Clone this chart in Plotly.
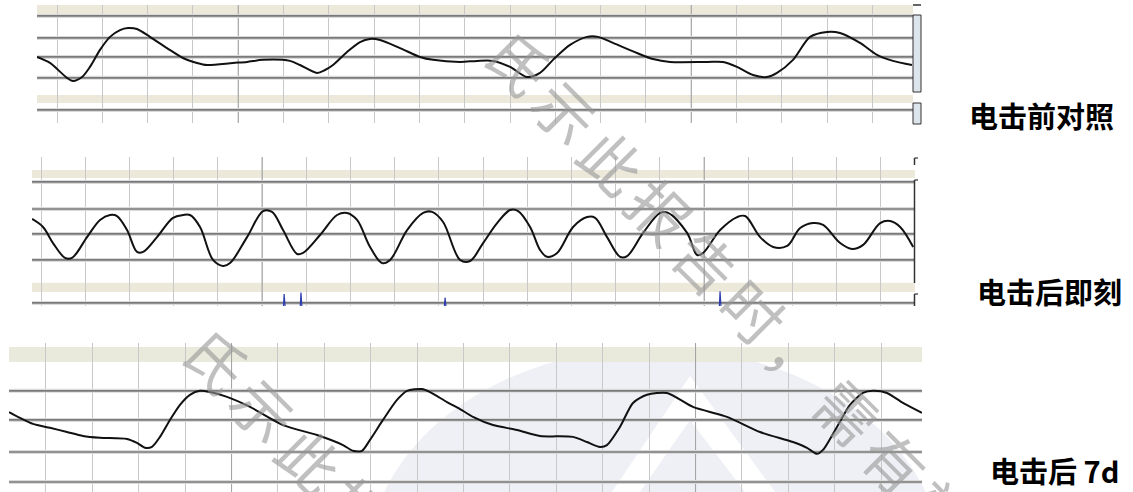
import plotly.graph_objects as go

W, H = 1133, 492

# ---------------- data ----------------
# Strip 1: before shock (time in grid divisions, amplitude in grid units)
t_pre = [-0.44, -0.155, 0.22, 0.353, 0.552, 0.728, 0.949, 1.17, 1.391, 1.567, 1.766, 2.053, 2.428,
         2.781, 3.091, 3.311, 3.885, 4.194, 4.547, 5.143, 5.364, 5.74, 5.916, 6.093, 6.402, 6.689,
         6.909, 7.13, 7.572, 8.013, 8.3, 8.896, 9.272, 9.625, 10.0, 10.375, 10.662, 10.949, 11.325,
         11.7, 11.943, 12.274, 12.804, 13.157, 13.532, 14.349, 14.702, 15.011, 15.364, 15.673,
         15.894, 16.247, 16.623, 16.998, 17.285, 17.726, 18.102, 18.455, 18.874]
v_pre = [0.0, -0.29, -1.01, -1.16, -0.97, -0.48, 0.34, 0.97, 1.30, 1.40, 1.35, 0.97, 0.43,
         -0.05, -0.29, -0.39, -0.29, -0.24, -0.14, -0.19, -0.39, -0.77, -0.63, -0.39, 0.24, 0.72,
         0.87, 0.82, 0.43, 0.0, -0.14, -0.24, -0.19, -0.19, -0.48, -0.97, -0.77, -0.14, 0.58,
         0.97, 0.97, 0.68, 0.19, -0.10, -0.24, -0.24, -0.24, -0.48, -0.87, -0.97,
         -0.77, -0.14, 0.97, 1.21, 1.16, 0.68, 0.10, -0.19, -0.39]

# Strip 2: immediately after shock
t_now = [-0.204, 0.045, 0.271, 0.543, 0.701, 1.041, 1.335, 1.561, 1.719, 1.946, 2.172, 2.308, 2.624,
         2.986, 3.213, 3.371, 3.597, 3.891, 4.118, 4.276, 4.661, 5.023, 5.226, 5.475, 5.792, 5.928,
         6.312, 6.697, 6.923, 7.149, 7.443, 7.715, 7.896, 8.281, 8.643, 8.846, 9.095, 9.48, 9.706,
         10.0, 10.317, 10.611, 10.792, 11.063, 11.29, 11.448, 11.674, 12.036, 12.353, 12.534,
         12.805, 13.1, 13.258, 13.62, 14.005, 14.186, 14.615, 14.842, 14.977, 15.362, 15.747,
         15.928, 16.267, 16.561, 16.878, 17.172, 17.466, 17.692, 18.077, 18.348, 18.597, 18.982,
         19.208, 19.434, 19.729]
v_now = [0.58, 0.27, -0.35, -0.92, -0.92, -0.12, 0.54, 0.73, 0.69, 0.15, -0.69, -0.69, -0.12,
         0.62, 0.73, 0.73, 0.27, -1.0, -1.23, -1.12, -0.12, 0.88, 0.85, 0.15, -0.77, -0.73,
         -0.04, 0.73, 0.81, 0.54, -0.5, -1.12, -1.0, 0.15, 0.81, 0.85, 0.46, -1.0, -1.04,
         -0.35, 0.42, 0.92, 0.88, 0.27, -0.62, -0.88, -0.73, 0.27, 0.65, 0.62,
         -0.12, -0.88, -0.85, 0.04, 0.81, 0.81, 0.04, -0.81, -0.73, 0.15, 0.65,
         0.69, -0.12, -0.5, -0.46, 0.23, 0.42, 0.35, -0.35, -0.58, -0.42, 0.42,
         0.5, 0.27, -0.5]

# Stimulus markers on strip 2
spike_t = [5.5, 5.88, 9.14, 15.36]
spike_top = [-2.31, -2.25, -2.45, -2.20]

# Strip 3: 7 days after shock
t_7d = [-0.797, -0.56, -0.28, 0.086, 0.453, 0.797, 1.164, 1.746, 1.961, 2.134, 2.284, 2.457, 2.672,
        2.888, 3.103, 3.319, 3.534, 3.901, 4.397, 5.108, 5.841, 6.401, 6.616, 6.81, 6.983, 7.263,
        7.565, 7.78, 8.103, 8.276, 8.642, 8.922, 9.203, 9.634, 10.151, 10.647, 11.358, 11.659,
        11.94, 12.09, 12.371, 12.651, 12.953, 13.384, 13.944, 14.677, 15.388, 16.099, 16.401,
        16.616, 16.746, 17.047, 17.328, 17.608, 17.823, 18.125, 18.47, 18.879]
v_7d = [0.26, 0.07, -0.13, -0.26, -0.40, -0.53, -0.59, -0.63, -0.76, -0.92, -0.89, -0.56, 0.0,
        0.50, 0.83, 0.96, 0.92, 0.76, 0.43, -0.17, -0.50, -0.83, -1.02, -1.02, -0.66, 0.0,
        0.66, 0.96, 1.02, 0.92, 0.59, 0.36, 0.10, -0.17, -0.33, -0.53, -0.56, -0.73,
        -0.89, -0.83, -0.23, 0.56, 0.83, 0.89, 0.43, 0.10, -0.40, -0.73, -0.92,
        -1.12, -0.99, -0.23, 0.50, 0.89, 0.96, 0.89, 0.56, 0.23]

labels = ["电击前对照", "电击后即刻", "电击后 7d"]
watermark = "氏示此报告时，需有效"

# ---------------- strip geometry (pixel rows/columns of each strip) ----------------
strips = [
    dict(t=t_pre, v=v_pre, px=(37, 913), py=(5, 123), xr=(-0.4415, 18.896), yr=(-3.19, 2.51),
         hlines=[1.98, 0.92, 0.0, -1.01, -2.56], bands=[(2.03, 2.51), (-2.22, -1.84)],
         major=[4, 14], band_color="#ece9da", smooth=0.8, label_py=115, label_px=1041),
    dict(t=t_now, v=v_now, px=(32, 915), py=(157, 306), xr=(-0.204, 19.77), yr=(-2.77, 2.96),
         hlines=[2.0, 0.96, 0.0, -1.0, -2.65], bands=[(2.15, 2.46), (-2.23, -1.88)],
         major=[5, 15], band_color="#ece9da", smooth=1.0, label_py=291, label_px=1049),
    dict(t=t_7d, v=v_7d, px=(9, 922), py=(343, 492), xr=(-0.797, 18.88), yr=(-2.38, 2.54),
         hlines=[0.96, 0.0, -1.06, -2.05], bands=[(1.91, 2.41)],
         major=[4, 14], band_color="#e9eadb", smooth=0.7, label_py=470, label_px=1054),
]


def fx(px):
    return px / W


def fy(py):
    return 1 - py / H


fig = go.Figure()
shapes = []
annotations = []

# faint logo behind the third strip
shapes.append(dict(type="circle", xref="paper", yref="paper", layer="below",
                   x0=fx(368), x1=fx(942), y0=fy(780), y1=fy(348),
                   fillcolor="#eef0f6", line=dict(width=0)))
shapes.append(dict(type="path", xref="paper", yref="paper", layer="below",
                   path=(f"M {fx(690)},{fy(376)} L {fx(612)},{fy(492)} L {fx(640)},{fy(492)} "
                         f"L {fx(690)},{fy(420)} L {fx(745)},{fy(492)} L {fx(775)},{fy(492)} Z"),
                   fillcolor="#ffffff", line=dict(width=0)))

for i, s in enumerate(strips, start=1):
    xa = "x" if i == 1 else f"x{i}"
    ya = "y" if i == 1 else f"y{i}"
    x_lo, x_hi = s["xr"]
    y_lo, y_hi = s["yr"]

    # darker division lines
    for tm in s["major"]:
        fig.add_trace(go.Scatter(x=[tm, tm], y=[y_lo, y_hi], mode="lines", xaxis=xa, yaxis=ya,
                                 line=dict(color="#a2a2a2", width=1), hoverinfo="skip"))
    # horizontal reference lines
    for hv in s["hlines"]:
        fig.add_trace(go.Scatter(x=[x_lo, x_hi], y=[hv, hv], mode="lines", xaxis=xa, yaxis=ya,
                                 line=dict(color="#dadada", width=4), hoverinfo="skip"))
        fig.add_trace(go.Scatter(x=[x_lo, x_hi], y=[hv, hv], mode="lines", xaxis=xa, yaxis=ya,
                                 line=dict(color="#7a7a7a", width=1.7), hoverinfo="skip"))
    # waveform
    fig.add_trace(go.Scatter(x=s["t"], y=s["v"], mode="lines", xaxis=xa, yaxis=ya,
                             line=dict(color="#111111", width=2, shape="spline",
                                       smoothing=s["smooth"]),
                             hoverinfo="skip"))

    common_x = dict(domain=[fx(s["px"][0]), fx(s["px"][1])], range=[x_lo, x_hi],
                    showgrid=True, gridcolor="#c8c8c8", gridwidth=1, dtick=1, tick0=0,
                    showticklabels=False, ticks="", zeroline=False, showline=False,
                    fixedrange=True, anchor=ya)
    common_y = dict(domain=[fy(s["py"][1]), fy(s["py"][0])], range=[y_lo, y_hi],
                    showgrid=False, showticklabels=False, ticks="", zeroline=False,
                    showline=False, fixedrange=True, anchor=xa)
    fig.update_layout(**{("xaxis" if i == 1 else f"xaxis{i}"): common_x,
                         ("yaxis" if i == 1 else f"yaxis{i}"): common_y})

    for b0, b1 in s["bands"]:
        shapes.append(dict(type="rect", xref=f"{xa} domain", yref=ya, layer="below",
                           x0=0, x1=1, y0=b0, y1=b1, fillcolor=s["band_color"],
                           line=dict(width=0)))

    annotations.append(dict(text=f"<b>{labels[i - 1]}</b>", xref="paper", yref="paper",
                            x=fx(s["label_px"]), y=fy(s["label_py"]), showarrow=False,
                            xanchor="center", yanchor="middle",
                            font=dict(family="Noto Sans CJK SC", size=29, color="#000000")))

# stimulus markers on the second strip
for st, top in zip(spike_t, spike_top):
    fig.add_trace(go.Scatter(x=[st - 0.015, st, st + 0.02], y=[-2.77, top, -2.77], mode="lines",
                             xaxis="x2", yaxis="y2", line=dict(color="#2e3db0", width=1.2),
                             hoverinfo="skip"))

# side scale boxes of the first strip
shapes.append(dict(type="rect", xref="paper", yref="paper", x0=fx(913), x1=fx(921),
                   y0=fy(92), y1=fy(15), fillcolor="#dde5ec", line=dict(color="#333333", width=1)))
shapes.append(dict(type="rect", xref="paper", yref="paper", x0=fx(913), x1=fx(921),
                   y0=fy(124), y1=fy(103), fillcolor="#dde5ec", line=dict(color="#333333", width=1)))
shapes.append(dict(type="line", xref="paper", yref="paper", x0=fx(913), x1=fx(921),
                   y0=fy(5), y1=fy(5), line=dict(color="#333333", width=1.5)))
# side brackets of the second strip
for y0p, y1p in [(158, 165), (180, 283), (294, 306)]:
    shapes.append(dict(type="line", xref="paper", yref="paper", x0=fx(914.5), x1=fx(914.5),
                       y0=fy(y1p), y1=fy(y0p), line=dict(color="#333333", width=1.5)))
    shapes.append(dict(type="line", xref="paper", yref="paper", x0=fx(914.5), x1=fx(918),
                       y0=fy(y0p), y1=fy(y0p), line=dict(color="#333333", width=1.2)))

# diagonal watermark text
wm_font = dict(family="Noto Sans CJK SC", size=60, color="rgba(150,150,150,0.6)")
for row_start in [(520, 60), (218, 358)]:
    for k, ch in enumerate(watermark):
        cx = row_start[0] + 47 * k
        cy = row_start[1] + 50 * k
        if cx > W + 20 or cy > H + 20:
            break
        annotations.append(dict(text=ch, xref="paper", yref="paper", x=fx(cx), y=fy(cy),
                                showarrow=False, textangle=45, xanchor="center",
                                yanchor="middle", font=wm_font))

fig.update_layout(width=W, height=H, margin=dict(l=0, r=0, t=0, b=0),
                  paper_bgcolor="#ffffff", plot_bgcolor="rgba(0,0,0,0)",
                  showlegend=False, hovermode=False, shapes=shapes, annotations=annotations)

fig.write_html("out.html", config={"displayModeBar": False, "staticPlot": True})
